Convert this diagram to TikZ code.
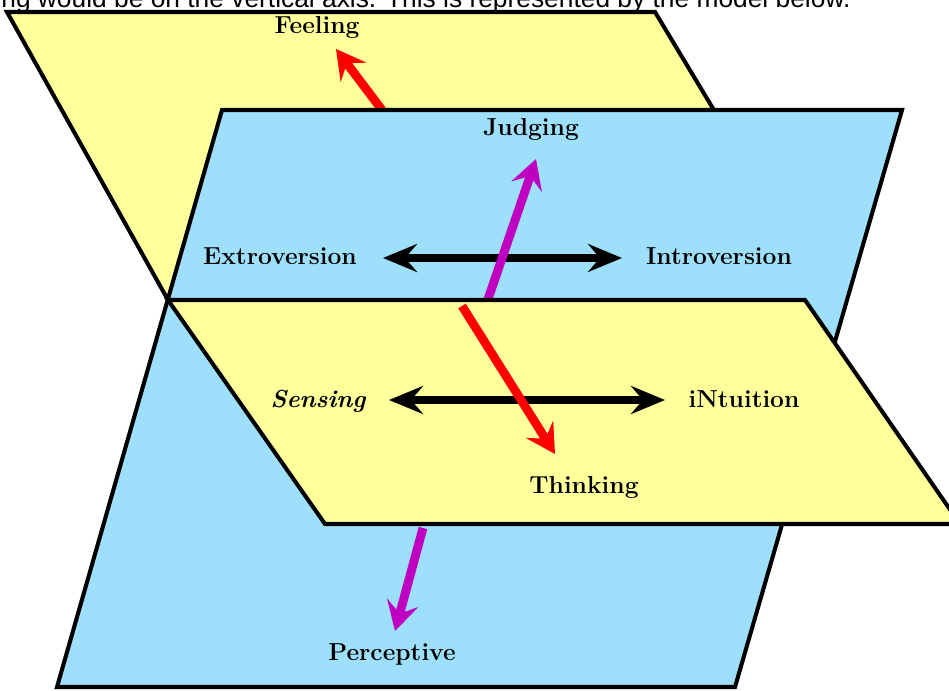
\documentclass[tikz,border=0pt]{standalone}
\usepackage{fontspec}
\newfontfamily\captionfont{Liberation Sans}
\usetikzlibrary{arrows.meta}
\definecolor{paleyellow}{HTML}{FFFF9C}
\definecolor{paleblue}{HTML}{9EE0FC}
\definecolor{plum}{HTML}{C000C0}

\begin{document}
\begin{tikzpicture}[x=0.02cm,y=-0.02cm,
  plane/.style={draw=black,line width=2.3pt,line join=miter},
  pole/.style={font=\fontsize{14}{16}\selectfont\bfseries,anchor=base,inner sep=0pt},
  colaxis/.style={line width=5pt,-{Stealth[length=0.58cm,width=0.64cm,inset=0.22cm]}},
  bwaxis/.style={line width=4pt,{Stealth[length=0.68cm,width=0.56cm,inset=0.24cm]}-{Stealth[length=0.68cm,width=0.56cm,inset=0.24cm]}}]
  \useasboundingbox (0,0) rectangle (949,690);
  \clip (0,0) rectangle (949,690);
  \node[font=\captionfont\fontsize{15}{18}\selectfont,anchor=base west,inner sep=0pt] (intro) at (1,7)
       {ng would be on the vertical axis. This is represented by the model below.};
  % back plane: feeling
  \filldraw[plane,fill=paleyellow] (7,12) -- (655,12) -- (828,300) -- (168,300) -- cycle;
  \coordinate (fe-tail) at (382,110); \coordinate (fe-head) at (336,49);
  \draw[colaxis,red] (fe-tail) -- (fe-head);
  % upright plane: judging / perceptive
  \filldraw[plane,fill=paleblue] (222,110) -- (902,110) -- (735,687) -- (57,687) -- cycle;
  \coordinate (ei-left) at (383,258); \coordinate (ei-right) at (622,258);
  \draw[bwaxis] (ei-left) -- (ei-right);
  \coordinate (ju-tail) at (486,305); \coordinate (ju-head) at (536,159);
  \draw[colaxis,plum] (ju-tail) -- (ju-head);
  \coordinate (pe-tail) at (423,528); \coordinate (pe-head) at (395,631);
  \draw[colaxis,plum] (pe-tail) -- (pe-head);
  % front plane: thinking
  \filldraw[plane,fill=paleyellow] (168,300) -- (805,300) -- (960,524) -- (325,524) -- cycle;
  \coordinate (sn-left) at (389,400); \coordinate (sn-right) at (665,400);
  \draw[bwaxis] (sn-left) -- (sn-right);
  \coordinate (th-tail) at (462,306); \coordinate (th-head) at (555,454);
  \draw[colaxis,red] (th-tail) -- (th-head);
  % labels
  \foreach \n/\x/\y/\t in {feel/317/33/Feeling,judg/531/135/Judging,extr/280/264/Extroversion,
      intr/719/264/Introversion,intu/744/407/iNtuition,think/584/493/Thinking,perc/392/660/Perceptive}
    \node[pole] (\n) at (\x,\y) {\t};
  \node[pole,font=\fontsize{14}{16}\selectfont\bfseries\itshape] (sens) at (318,407) {Sensing};
\end{tikzpicture}
\end{document}
